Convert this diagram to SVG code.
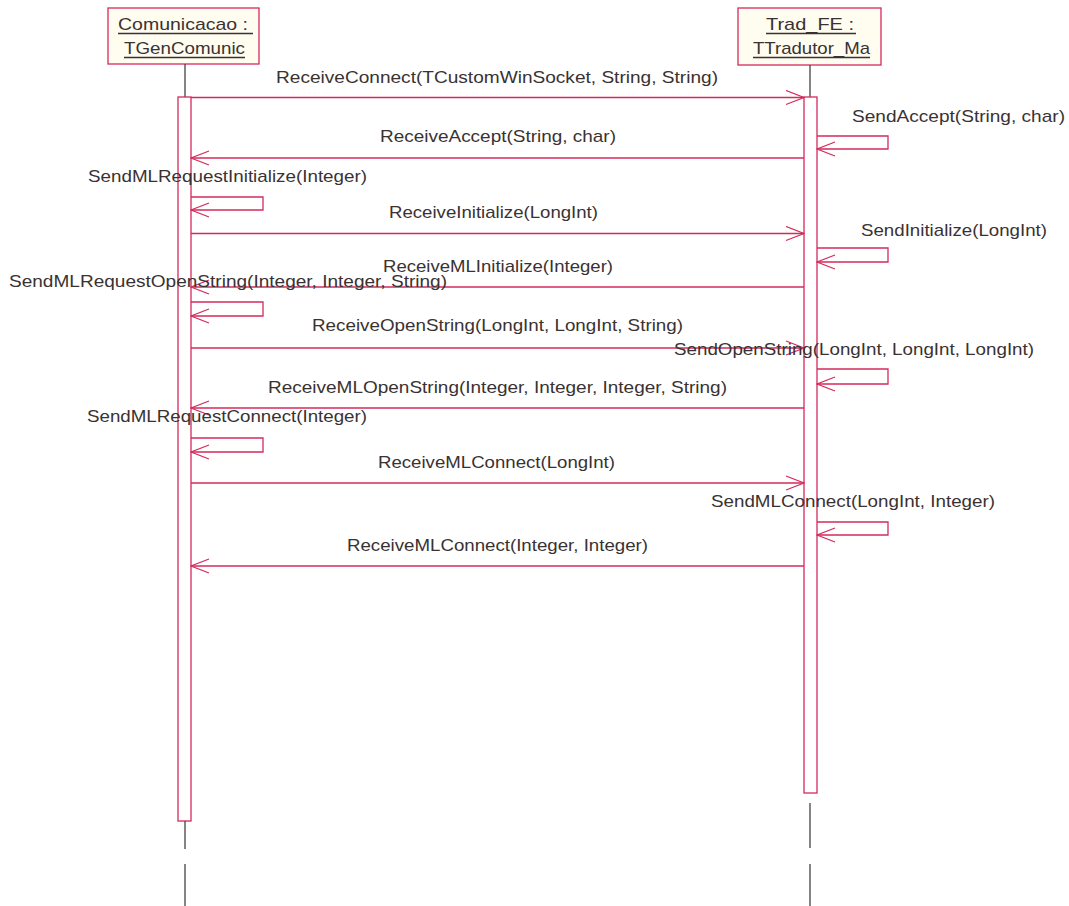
<svg xmlns="http://www.w3.org/2000/svg" width="1069" height="906" viewBox="0 0 1069 906">
  <style>
    .lbl { font-family: "Liberation Sans", Arial, sans-serif; font-size: 17px; fill: #3a3232; }
    .box { fill: #fffcf0; stroke: #d42a5c; stroke-width: 1.3; }
    .act { fill: #ffffff; stroke: #d42a5c; stroke-width: 1.3; }
    .life { stroke: #4a4242; stroke-width: 1.3; fill: none; }
    .ul { stroke: #3a3232; stroke-width: 1.5; }
    .msg { stroke: #d42a5c; stroke-width: 1.3; fill: none; }
  </style>
  <defs>
    <marker id="open" viewBox="0 0 20 16" refX="19" refY="8" markerWidth="20" markerHeight="16" markerUnits="userSpaceOnUse" orient="auto">
      <polyline points="1,1 19,8 1,15" fill="none" stroke="#d42a5c" stroke-width="1.3"/>
    </marker>
  </defs>
  <rect width="1069" height="906" fill="#ffffff"/>

  <!-- Lifeline: Comunicacao -->
  <g id="comunicacao">
    <rect class="box" x="108" y="8" width="151" height="56"/>
    <text class="lbl" x="118" y="30" textLength="130" lengthAdjust="spacingAndGlyphs">Comunicacao :</text>
    <line class="ul" x1="118" y1="33.5" x2="253" y2="33.5"/>
    <text class="lbl" x="124" y="54" textLength="121" lengthAdjust="spacingAndGlyphs">TGenComunic</text>
    <line class="ul" x1="124" y1="57.5" x2="245" y2="57.5"/>
    <line class="life" x1="185" y1="64" x2="185" y2="97"/>
    <rect class="act" x="178" y="97" width="13" height="724"/>
    <line class="life" x1="185" y1="821" x2="185" y2="849"/>
    <line class="life" x1="185" y1="864" x2="185" y2="906"/>
  </g>

  <!-- Lifeline: Trad_FE -->
  <g id="trad_fe">
    <rect class="box" x="738" y="8" width="143" height="57"/>
    <text class="lbl" x="766" y="30" textLength="88" lengthAdjust="spacingAndGlyphs">Trad_FE :</text>
    <line class="ul" x1="766" y1="33.5" x2="856" y2="33.5"/>
    <text class="lbl" x="753" y="54" textLength="117" lengthAdjust="spacingAndGlyphs">TTradutor_Ma</text>
    <line class="ul" x1="753" y1="57.5" x2="870" y2="57.5"/>
    <line class="life" x1="810" y1="65" x2="810" y2="97"/>
    <rect class="act" x="804" y="97" width="13" height="696"/>
    <line class="life" x1="810" y1="803" x2="810" y2="848"/>
    <line class="life" x1="810" y1="864" x2="810" y2="906"/>
  </g>

  <!-- Messages -->
  <g id="connectors">
    <line class="msg" x1="191" y1="97.5" x2="804" y2="97.5" marker-end="url(#open)"/>
    <polyline class="msg" points="817,136 888,136 888,149 817,149" marker-end="url(#open)"/>
    <line class="msg" x1="804" y1="158" x2="191" y2="158" marker-end="url(#open)"/>
    <polyline class="msg" points="191,197 263,197 263,210 191,210" marker-end="url(#open)"/>
    <line class="msg" x1="191" y1="233.5" x2="804" y2="233.5" marker-end="url(#open)"/>
    <polyline class="msg" points="817,248 888,248 888,262 817,262" marker-end="url(#open)"/>
    <line class="msg" x1="804" y1="287" x2="191" y2="287" marker-end="url(#open)"/>
    <polyline class="msg" points="191,302 263,302 263,316 191,316" marker-end="url(#open)"/>
    <line class="msg" x1="191" y1="348" x2="804" y2="348" marker-end="url(#open)"/>
    <polyline class="msg" points="817,369 888,369 888,384 817,384" marker-end="url(#open)"/>
    <line class="msg" x1="804" y1="408" x2="191" y2="408" marker-end="url(#open)"/>
    <polyline class="msg" points="191,438 263,438 263,452 191,452" marker-end="url(#open)"/>
    <line class="msg" x1="191" y1="483" x2="804" y2="483" marker-end="url(#open)"/>
    <polyline class="msg" points="817,522 888,522 888,535 817,535" marker-end="url(#open)"/>
    <line class="msg" x1="804" y1="566" x2="191" y2="566" marker-end="url(#open)"/>
  </g>

  <!-- Message labels -->
  <g id="labels">
    <text class="lbl" x="276" y="83" textLength="442" lengthAdjust="spacingAndGlyphs">ReceiveConnect(TCustomWinSocket, String, String)</text>
    <text class="lbl" x="852" y="122" textLength="213" lengthAdjust="spacingAndGlyphs">SendAccept(String, char)</text>
    <text class="lbl" x="380" y="142" textLength="236" lengthAdjust="spacingAndGlyphs">ReceiveAccept(String, char)</text>
    <text class="lbl" x="88" y="182" textLength="279" lengthAdjust="spacingAndGlyphs">SendMLRequestInitialize(Integer)</text>
    <text class="lbl" x="389" y="218" textLength="209" lengthAdjust="spacingAndGlyphs">ReceiveInitialize(LongInt)</text>
    <text class="lbl" x="861" y="236" textLength="186" lengthAdjust="spacingAndGlyphs">SendInitialize(LongInt)</text>
    <text class="lbl" x="383" y="272" textLength="230" lengthAdjust="spacingAndGlyphs">ReceiveMLInitialize(Integer)</text>
    <text class="lbl" x="9" y="287" textLength="438" lengthAdjust="spacingAndGlyphs">SendMLRequestOpenString(Integer, Integer, String)</text>
    <text class="lbl" x="312" y="331" textLength="371" lengthAdjust="spacingAndGlyphs">ReceiveOpenString(LongInt, LongInt, String)</text>
    <text class="lbl" x="674" y="355" textLength="360" lengthAdjust="spacingAndGlyphs">SendOpenString(LongInt, LongInt, LongInt)</text>
    <text class="lbl" x="268" y="393" textLength="459" lengthAdjust="spacingAndGlyphs">ReceiveMLOpenString(Integer, Integer, Integer, String)</text>
    <text class="lbl" x="87" y="422" textLength="280" lengthAdjust="spacingAndGlyphs">SendMLRequestConnect(Integer)</text>
    <text class="lbl" x="378" y="468" textLength="237" lengthAdjust="spacingAndGlyphs">ReceiveMLConnect(LongInt)</text>
    <text class="lbl" x="711" y="507" textLength="284" lengthAdjust="spacingAndGlyphs">SendMLConnect(LongInt, Integer)</text>
    <text class="lbl" x="347" y="551" textLength="301" lengthAdjust="spacingAndGlyphs">ReceiveMLConnect(Integer, Integer)</text>
  </g>
</svg>
